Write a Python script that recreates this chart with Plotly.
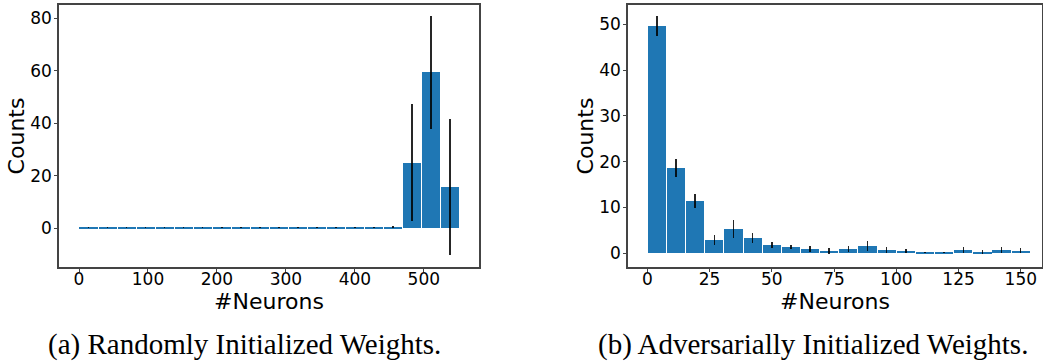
import plotly.graph_objects as go

# ---- data: panel (a) randomly initialized weights ----
left_neurons = [13.8, 41.4, 69.0, 96.6, 124.2, 151.8, 179.4, 207.0, 234.6, 262.2,
                289.8, 317.4, 345.0, 372.6, 400.2, 427.8, 455.4, 483.0, 510.6, 538.2]
left_counts = [0.3, 0.3, 0.3, 0.3, 0.3, 0.3, 0.3, 0.3, 0.3, 0.3,
               0.3, 0.3, 0.3, 0.3, 0.3, 0.3, 0.5, 25.1, 59.5, 15.7]
left_err = [0.3, 0.3, 0.3, 0.3, 0.3, 0.3, 0.3, 0.3, 0.3, 0.3,
            0.3, 0.3, 0.3, 0.3, 0.3, 0.3, 0.4, 22.2, 21.5, 25.9]
left_bin_width = 27.6

# ---- data: panel (b) adversarially initialized weights ----
right_neurons = [3.85, 11.54, 19.23, 26.92, 34.61, 42.30, 49.99, 57.68, 65.37, 73.06,
                 80.75, 88.44, 96.13, 103.82, 111.51, 119.20, 126.89, 134.58, 142.27, 149.96]
right_counts = [49.6, 18.6, 11.4, 2.9, 5.3, 3.3, 1.8, 1.4, 0.95, 0.5,
                0.95, 1.6, 0.7, 0.5, 0.08, 0.08, 0.7, 0.3, 0.7, 0.5]
right_err = [2.25, 2.0, 1.45, 1.15, 1.9, 1.15, 0.75, 0.4, 0.6, 0.7,
             0.65, 1.15, 0.7, 0.5, 0.1, 0.1, 0.75, 0.4, 0.7, 0.55]
right_bin_width = 7.69

left_xticks = [0, 100, 200, 300, 400, 500]
left_yticks = [0, 20, 40, 60, 80]
right_xticks = [0, 25, 50, 75, 100, 125, 150]
right_yticks = [0, 10, 20, 30, 40, 50]

captions = ["(a) Randomly Initialized Weights.", "(b) Adversarially Initialized Weights."]

BLUE = "#1f77b4"
W, H = 1043, 364

fig = go.Figure()
fig.add_trace(go.Bar(
    x=left_neurons, y=left_counts, width=[left_bin_width * 0.95] * len(left_neurons),
    marker=dict(color=BLUE, line=dict(width=0)),
    error_y=dict(type="data", array=left_err, color="rgba(0,0,0,0.85)", thickness=1.5, width=0),
    xaxis="x", yaxis="y", showlegend=False))
fig.add_trace(go.Bar(
    x=right_neurons, y=right_counts, width=[right_bin_width * 0.95] * len(right_neurons),
    marker=dict(color=BLUE, line=dict(width=0)),
    error_y=dict(type="data", array=right_err, color="rgba(0,0,0,0.85)", thickness=1.5, width=0),
    xaxis="x2", yaxis="y2", showlegend=False))

tickfont = dict(family="DejaVu Sans", size=17, color="black")
titlefont = dict(family="DejaVu Sans", size=22, color="black")
axis_common = dict(showgrid=False, zeroline=False, showline=True, mirror=True,
                   linecolor="#444", linewidth=1.5, ticks="outside", ticklen=3,
                   tickcolor="#444", tickwidth=1, tickfont=tickfont)

ydom = [(H - 267) / H, (H - 5) / H]
fig.update_layout(
    width=W, height=H, margin=dict(l=0, r=0, t=0, b=0),
    paper_bgcolor="white", plot_bgcolor="white", bargap=0,
    xaxis=dict(domain=[59 / W, 479 / W], range=[-29, 580], tickvals=left_xticks, ticklabelstandoff=-7,
               title=dict(text="#Neurons", font=titlefont, standoff=2), anchor="y", **axis_common),
    yaxis=dict(domain=ydom, range=[-14.7, 85.1], tickvals=left_yticks, ticklabelstandoff=-1,
               title=dict(text="Counts", font=titlefont, standoff=0), anchor="x", **axis_common),
    xaxis2=dict(domain=[628 / W, 1042 / W], range=[-7.75, 158.5], tickvals=right_xticks, ticklabelstandoff=-7,
                title=dict(text="#Neurons", font=titlefont, standoff=2), anchor="y2", **axis_common),
    yaxis2=dict(domain=ydom, range=[-3.0, 54.2], tickvals=right_yticks, ticklabelstandoff=-1,
                title=dict(text="Counts", font=titlefont, standoff=0), anchor="x2", **axis_common),
)

capfont = dict(family="Liberation Serif", size=29, color="black")
fig.add_annotation(text=captions[0], x=244 / W, y=(H - 344) / H, xref="paper", yref="paper",
                   showarrow=False, font=capfont, xanchor="center", yanchor="middle")
fig.add_annotation(text=captions[1], x=813 / W, y=(H - 344) / H, xref="paper", yref="paper",
                   showarrow=False, font=capfont, xanchor="center", yanchor="middle")

fig.write_html("out.html")
